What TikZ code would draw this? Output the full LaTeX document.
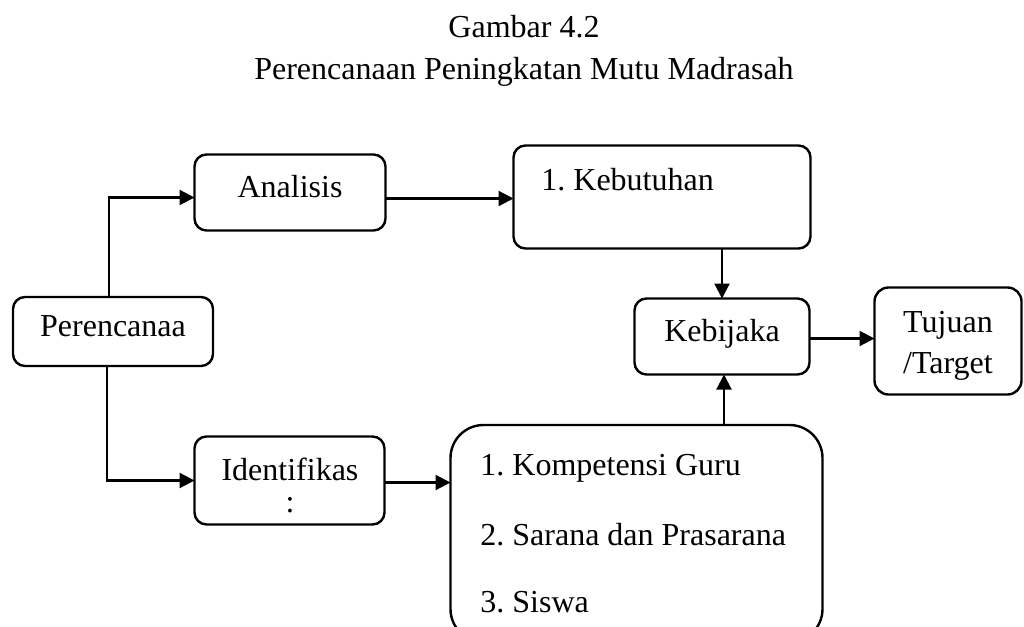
\documentclass[tikz,border=0pt]{standalone}
\usepackage{fontspec}
\setmainfont{Liberation Serif}
\usetikzlibrary{arrows.meta}
\frenchspacing
\begin{document}
\begin{tikzpicture}[x=0.5pt,y=-0.5pt,
  font=\fontsize{16}{20.5}\selectfont,
  box/.style={draw, line width=1.2pt, rounded corners=6pt, inner sep=0pt, outer sep=0pt,
    text height=0.75em, text depth=0.25em},
  arr/.style={line width=1.1pt, -{Triangle[length=7.5pt,width=7.5pt]}},
  lbl/.style={inner sep=0pt, anchor=base},
  lbll/.style={inner sep=0pt, anchor=base west}]
\useasboundingbox (0,0) rectangle (1024,627);

% title
\node[lbl] (judul1) at (524,37) {Gambar 4.2};
\node[lbl] (judul2) at (524,79) {Perencanaan Peningkatan Mutu Madrasah};

% boxes
\node[box, minimum width=100pt, minimum height=34.5pt] (per) at (113,331.5) {Perencanaa};
\node[box, minimum width=95.5pt, minimum height=38pt] (ana) at (290,192.5) {Analisis};
\node[box, minimum width=148.5pt, minimum height=51.5pt] (keb) at (662,197) {};
\node[box, minimum width=87.5pt, minimum height=38pt] (kbj) at (722,336.5) {Kebijaka};
\node[box, minimum width=73.5pt, minimum height=53.5pt, rounded corners=7pt] (tuj) at (948,341) {};
\node[box, minimum width=95pt, minimum height=44pt] (idf) at (289.5,480.5) {};
\node[box, minimum width=186pt, minimum height=108.5pt, rounded corners=16.5pt] (big) at (636.5,533.5) {};

% box texts
\node[lbll] (keb-t) at (541,190) {1. Kebutuhan};
\node[lbl] (tuj-t1) at (948,332) {Tujuan};
\node[lbl] (tuj-t2) at (948,373) {/Target};
\node[lbl] (idf-t1) at (290,480) {Identifikas};
\node[lbl] (idf-t2) at (290,512) {:};
\node[lbll] (big-t1) at (480,475) {1. Kompetensi Guru};
\node[lbll] (big-t2) at (480,545) {2. Sarana dan Prasarana};
\node[lbll] (big-t3) at (480,612) {3. Siswa};

% connectors
\draw[arr] ([xshift=-2pt]per.north) |- ([yshift=-2.5pt]ana.west);
\draw[arr] ([xshift=-3pt]per.south) |- (idf.west);
\draw[arr] ([yshift=-3pt]ana.east) -- ([yshift=-3pt]ana.east -| keb.west);
\draw[arr] ([yshift=-1pt]idf.east) -- ([yshift=-1pt]idf.east -| big.west);
\draw[arr] (kbj.north |- keb.south) -- (kbj.north);
\draw[arr] ([xshift=1pt]kbj.south |- big.north) -- ([xshift=1pt]kbj.south);
\draw[arr] ([yshift=-1pt]kbj.east) -- ([yshift=-1pt]kbj.east -| tuj.west);
\end{tikzpicture}
\end{document}
